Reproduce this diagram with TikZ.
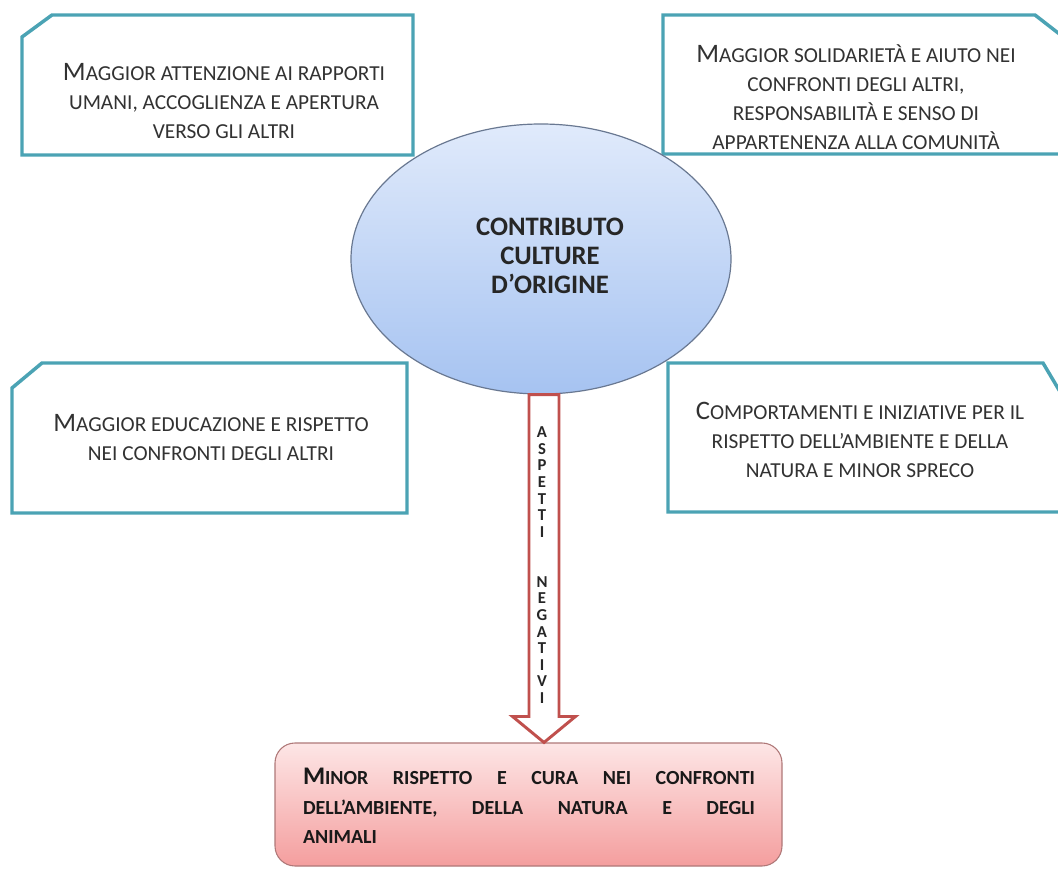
\documentclass[tikz,border=0pt]{standalone}
\usepackage{fontspec}
\setmainfont{Carlito}
\usetikzlibrary{shapes.geometric,calc,backgrounds}
\definecolor{tealline}{RGB}{75,163,180}
\definecolor{ellTop}{RGB}{224,234,251}
\definecolor{ellBot}{RGB}{166,195,241}
\definecolor{ellLine}{RGB}{105,120,145}
\definecolor{arrRed}{RGB}{192,80,77}
\definecolor{pinkTop}{RGB}{253,230,230}
\definecolor{pinkBot}{RGB}{244,158,158}
\definecolor{pinkLine}{RGB}{175,120,120}
\definecolor{txtgrey}{RGB}{50,50,50}
\newcommand{\capA}[1]{{\fontsize{20}{21.75}\selectfont #1}}
\newcommand{\capB}[1]{{\fontsize{19}{22}\selectfont #1}}
\newcommand{\scsize}{\fontsize{16}{21.75}\selectfont}
\newcommand{\negsize}{\fontsize{15}{22}\selectfont}
\newcommand{\fullline}[1]{\leavevmode\hbox to 339pt{#1}}
\begin{document}
\begin{tikzpicture}[x=0.75pt,y=-0.75pt,
  boxarea/.style={inner sep=0pt, outer sep=0pt},
  boxline/.style={draw=tealline, line width=2.6pt, fill=white, line join=miter},
  boxtext/.style={inner sep=0pt, align=center, text=txtgrey, font=\scsize},
  centre/.style={ellipse, draw=ellLine, line width=0.9pt, top color=ellTop, bottom color=ellBot,
     inner sep=0pt, minimum width=285pt, minimum height=202.5pt},
  centretext/.style={inner sep=0pt, align=center, text=black!85, font=\fontsize{20}{21.75}\selectfont\bfseries},
  blockarrow/.style={draw=arrRed, line width=2.2pt, fill=white, line join=miter},
  vlabel/.style={inner sep=0pt, align=center, text=black!85, font=\fontsize{12.5}{12.45}\selectfont\bfseries},
  negbox/.style={draw=pinkLine, line width=0.8pt, top color=pinkTop, bottom color=pinkBot,
     rounded corners=15pt, inner sep=0pt, minimum width=380.25pt, minimum height=92.25pt},
  negtext/.style={inner sep=0pt, text width=339pt, align=left, text=black!90, font=\negsize\bfseries}
]
\useasboundingbox[fill=white] (0,0) rectangle (1058,870);

% boxes (areas)
\node[boxarea, minimum width=293.25pt, minimum height=105pt] (b1) at (217.5,85) {};
\node[boxarea, minimum width=299.25pt, minimum height=104.25pt] (b2) at (862.5,84.5) {};
\node[boxarea, minimum width=296.25pt, minimum height=112.5pt] (b3) at (209.5,438) {};
\node[boxarea, minimum width=295.5pt, minimum height=111.75pt] (b4) at (865,437.5) {};

\draw[boxline] ($(b1.north west)+(0,22)$) -- ($(b1.north west)+(30,0)$) -- (b1.north east) -- (b1.south east) -- (b1.south west) -- cycle;
\draw[boxline] (b2.north west) -- ($(b2.north east)+(-27,0)$) -- ($(b2.north east)+(0,21)$) -- (b2.south east) -- (b2.south west) -- cycle;
\draw[boxline] ($(b3.north west)+(0,25)$) -- ($(b3.north west)+(30,0)$) -- (b3.north east) -- (b3.south east) -- (b3.south west) -- cycle;
\draw[boxline] (b4.north west) -- ($(b4.north east)+(-19,0)$) -- ($(b4.north east)+(0,32)$) -- (b4.south east) -- (b4.south west) -- cycle;

\node[boxtext] (t1) at (224,101) {\capA{M}AGGIOR ATTENZIONE AI RAPPORTI\\UMANI, ACCOGLIENZA E APERTURA\\VERSO GLI ALTRI};
\node[boxtext] (t2) at (856,97.5) {\capA{M}AGGIOR SOLIDARIETÀ E AIUTO NEI\\CONFRONTI DEGLI ALTRI,\\RESPONSABILITÀ E SENSO DI\\APPARTENENZA ALLA COMUNITÀ};
\node[boxtext] (t3) at (211,438) {\capA{M}AGGIOR EDUCAZIONE E RISPETTO\\NEI CONFRONTI DEGLI ALTRI};
\node[boxtext] (t4) at (860,440) {\capA{C}OMPORTAMENTI E INIZIATIVE PER IL\\RISPETTO DELL’AMBIENTE E DELLA\\NATURA E MINOR SPRECO};

% central ellipse
\node[centre] (ell) at (541,259) {};
\node[centretext] (ct) at (550,256) {CONTRIBUTO\\CULTURE\\D’ORIGINE};

% bottom box
\node[negbox] (neg) at (528.5,804.5) {};
\node[negtext] (nt) at (529,806) {%
\fullline{\capB{M}INOR\hfill RISPETTO\hfill E\hfill CURA\hfill NEI\hfill CONFRONTI}\\
\fullline{DELL’AMBIENTE,\hfill DELLA\hfill NATURA\hfill E\hfill DEGLI}\\
ANIMALI};

% block arrow
\coordinate (atop) at ($(ell.south)+(3,0)$);
\coordinate (atip) at (atop |- neg.north);
\draw[blockarrow] ($(atop)+(-15,0)$) -- ($(atop)+(15,0)$) -- ($(atip)+(15,-26)$) -- ($(atip)+(31.5,-26)$)
  -- (atip) -- ($(atip)+(-31.5,-26)$) -- ($(atip)+(-15,-26)$) -- cycle;

\node[vlabel] (asp) at (542,482) {A\\S\\P\\E\\T\\T\\I};
\node[vlabel] (neglab) at (542,640) {N\\E\\G\\A\\T\\I\\V\\I};
\end{tikzpicture}
\end{document}
